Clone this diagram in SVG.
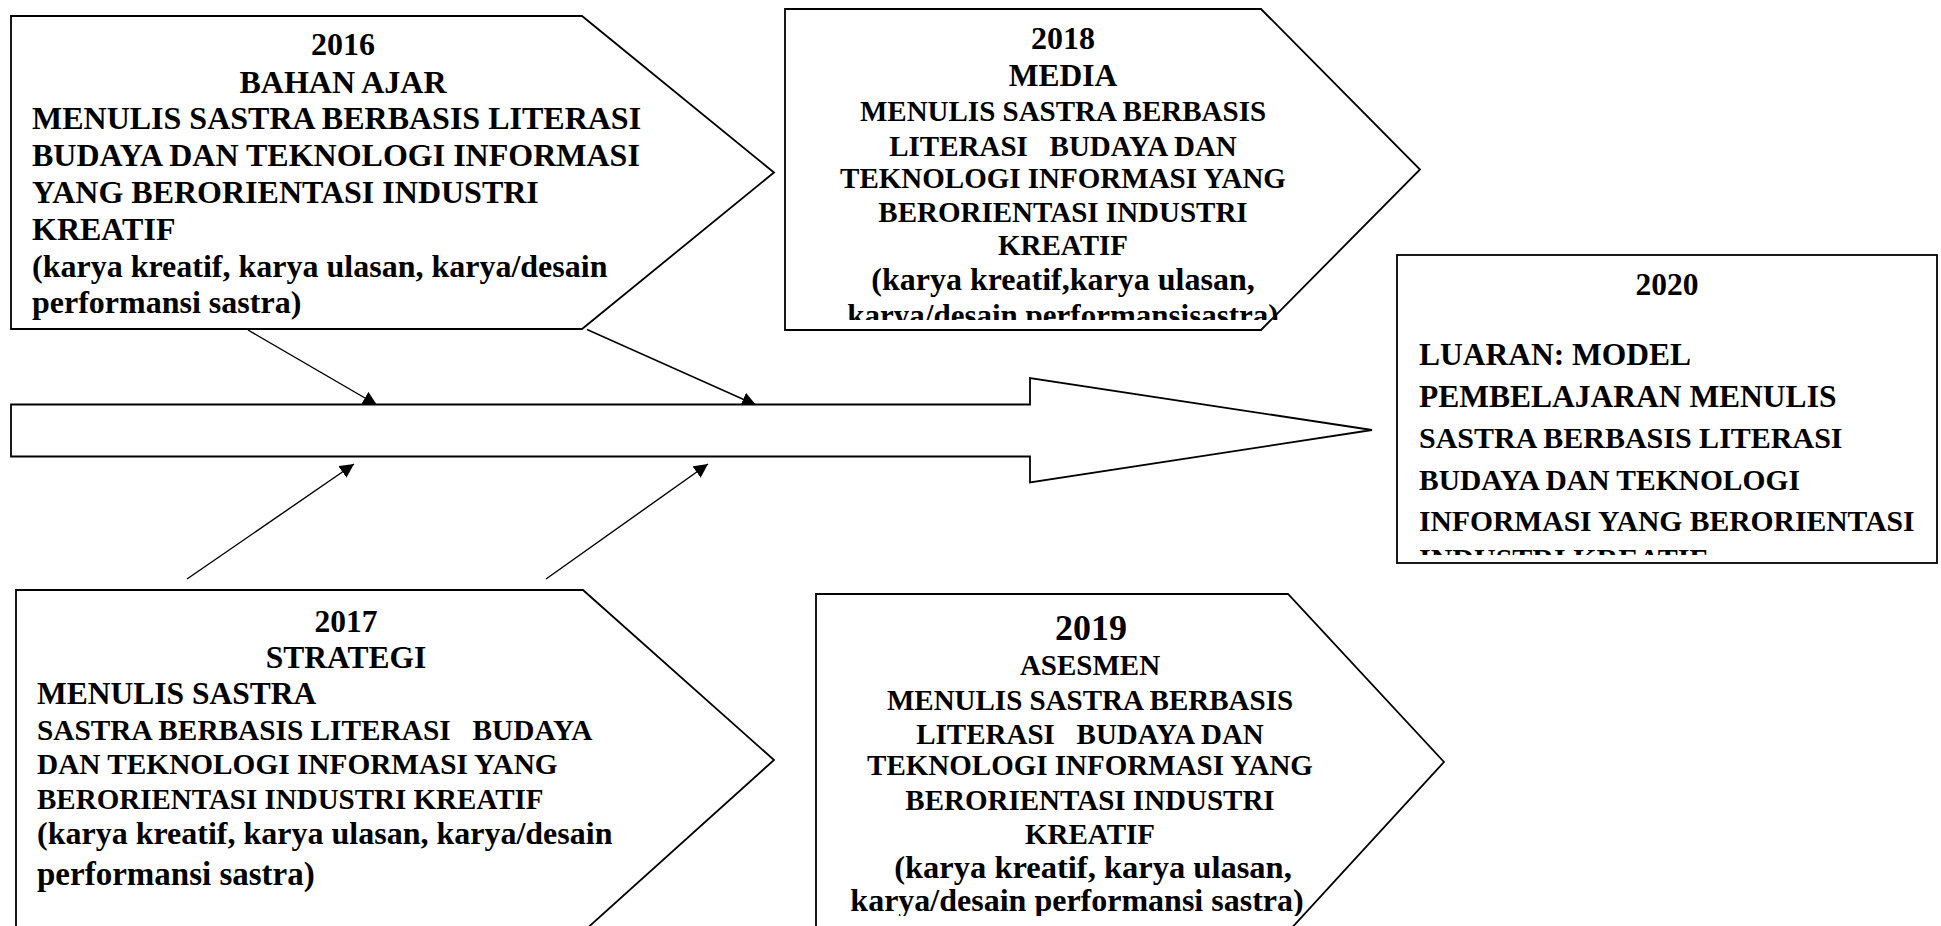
<svg xmlns="http://www.w3.org/2000/svg" width="1941" height="926" viewBox="0 0 1941 926">
<style>
.shape{fill:#fff;stroke:#000;stroke-width:1.8;stroke-linejoin:miter}
.conn{fill:none;stroke:#000;stroke-width:1.4}
text{font-family:"Liberation Serif","Times New Roman",serif;font-weight:bold;fill:#000}
.c{text-anchor:middle}
</style>
<defs>
<marker id="ah" markerUnits="userSpaceOnUse" markerWidth="15" markerHeight="15" refX="14" refY="7" orient="auto">
<path d="M0,0 L14,7 L0,14 z" fill="#000"/>
</marker>
<clipPath id="clip2018"><rect x="780" y="0" width="620" height="320"/></clipPath>
<clipPath id="clip2019"><rect x="810" y="590" width="620" height="326"/></clipPath>
<clipPath id="clip2020"><rect x="1397" y="255" width="540" height="300"/></clipPath>
</defs>
<rect width="1941" height="926" fill="#fff"/>

<g id="connectors">
<line class="conn" x1="248" y1="330" x2="377" y2="405" marker-end="url(#ah)"/>
<line class="conn" x1="587" y1="329.5" x2="756" y2="405" marker-end="url(#ah)"/>
<line class="conn" x1="187" y1="579" x2="354" y2="464" marker-end="url(#ah)"/>
<line class="conn" x1="546" y1="579" x2="708" y2="464" marker-end="url(#ah)"/>
</g>

<g id="spine">
<polygon class="shape" points="11,404.5 1030,404.5 1030,378 1372,430 1030,482.5 1030,456.5 11,456.5"/>
</g>

<g id="node-2016">
<polygon class="shape" points="11,16 582,16 774,172.5 582,329 11,329"/>
<text class="c" x="343" y="55" font-size="32">2016</text>
<text class="c" x="343" y="92.5" font-size="32">BAHAN AJAR</text>
<text x="32" y="129" font-size="32">MENULIS SASTRA BERBASIS LITERASI</text>
<text x="32" y="166" font-size="32">BUDAYA DAN TEKNOLOGI INFORMASI</text>
<text x="32" y="203" font-size="32">YANG BERORIENTASI INDUSTRI</text>
<text x="32" y="239.5" font-size="32">KREATIF</text>
<text x="32" y="276.5" font-size="32">(karya kreatif, karya ulasan, karya/desain</text>
<text x="32" y="312.5" font-size="32">performansi sastra)</text>
</g>

<g id="node-2018">
<polygon class="shape" points="785,9 1261,9 1420,169.5 1261,330 785,330"/>
<text class="c" x="1063" y="48.5" font-size="32">2018</text>
<text class="c" x="1063" y="85.5" font-size="31.5">MEDIA</text>
<text class="c" x="1063" y="120.5" font-size="29">MENULIS SASTRA BERBASIS</text>
<text class="c" x="1063" y="155.5" font-size="29" xml:space="preserve">LITERASI   BUDAYA DAN</text>
<text class="c" x="1063" y="187.5" font-size="29">TEKNOLOGI INFORMASI YANG</text>
<text class="c" x="1063" y="221.5" font-size="29">BERORIENTASI INDUSTRI</text>
<text class="c" x="1063" y="255" font-size="29">KREATIF</text>
<text class="c" x="1063" y="290" font-size="32">(karya kreatif,karya ulasan,</text>
<text class="c" x="1063" y="326" font-size="31" clip-path="url(#clip2018)">karya/desain performansisastra)</text>
</g>

<g id="node-2020">
<rect class="shape" x="1397" y="255" width="540" height="308"/>
<text class="c" x="1667" y="295" font-size="31.5">2020</text>
<text x="1419" y="365" font-size="31.5">LUARAN: MODEL</text>
<text x="1419" y="406.5" font-size="31.5">PEMBELAJARAN MENULIS</text>
<text x="1419" y="448" font-size="30">SASTRA BERBASIS LITERASI</text>
<text x="1419" y="489.5" font-size="29.5">BUDAYA DAN TEKNOLOGI</text>
<text x="1419" y="531" font-size="29.6">INFORMASI YANG BERORIENTASI</text>
<text x="1419" y="569" font-size="30" clip-path="url(#clip2020)">INDUSTRI KREATIF</text>
</g>

<g id="node-2017">
<polygon class="shape" points="16,590 583,590 774,760 583,932 16,932"/>
<text class="c" x="346" y="631.5" font-size="31.5">2017</text>
<text class="c" x="346" y="667.5" font-size="31.5">STRATEGI</text>
<text x="37" y="704" font-size="31.5">MENULIS SASTRA</text>
<text x="37" y="739.5" font-size="29.3" xml:space="preserve">SASTRA BERBASIS LITERASI   BUDAYA</text>
<text x="37" y="773.5" font-size="29.3">DAN TEKNOLOGI INFORMASI YANG</text>
<text x="37" y="808.5" font-size="29">BERORIENTASI INDUSTRI KREATIF</text>
<text x="37" y="843.5" font-size="32">(karya kreatif, karya ulasan, karya/desain</text>
<text x="37" y="885" font-size="33">performansi sastra)</text>
</g>

<g id="node-2019">
<polygon class="shape" points="816,594 1288,594 1444,762 1288,932 816,932"/>
<text class="c" x="1091" y="640" font-size="36">2019</text>
<text class="c" x="1090" y="675" font-size="29">ASESMEN</text>
<text class="c" x="1090" y="709.5" font-size="29">MENULIS SASTRA BERBASIS</text>
<text class="c" x="1090" y="743.5" font-size="29" xml:space="preserve">LITERASI   BUDAYA DAN</text>
<text class="c" x="1090" y="775" font-size="29">TEKNOLOGI INFORMASI YANG</text>
<text class="c" x="1090" y="810" font-size="29">BERORIENTASI INDUSTRI</text>
<text class="c" x="1090" y="843.5" font-size="29">KREATIF</text>
<text class="c" x="1093" y="878" font-size="32.5">(karya kreatif, karya ulasan,</text>
<text class="c" x="1077" y="910.5" font-size="32" clip-path="url(#clip2019)">karya/desain performansi sastra)</text>
</g>
</svg>
